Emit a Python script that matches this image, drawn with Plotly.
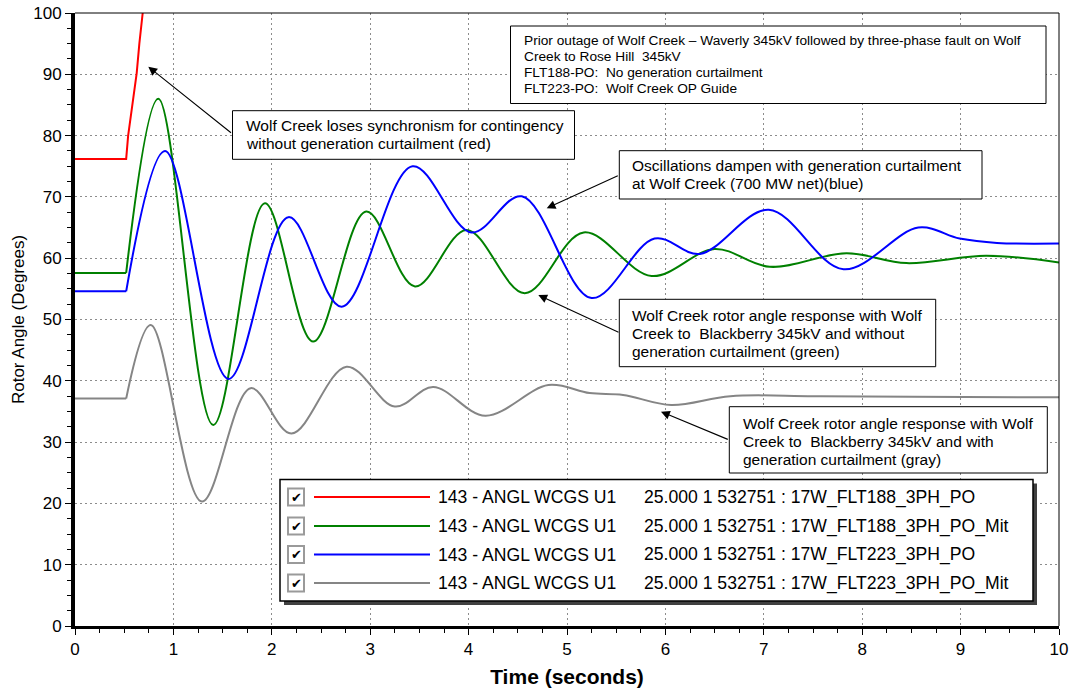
import plotly.graph_objects as go

# ---- rotor angle traces (time in s, angle in degrees) ----
t_red = [0.0, 0.52, 0.54, 0.576, 0.627, 0.654, 0.688]
v_red = [76.2, 76.2, 80.0, 84.2, 90.2, 95.0, 100.0]

t_green = [0.0, 0.52, 0.847, 1.405, 1.93, 2.42, 2.96, 3.455, 3.98, 4.57, 5.17, 5.86,
           6.5, 7.06, 7.84, 8.45, 9.26, 10.0]
v_green = [57.6, 57.6, 86.0, 32.8, 68.95, 46.4, 67.6, 55.4, 64.6, 54.3, 64.2, 57.1,
           61.5, 58.6, 60.8, 59.2, 60.4, 59.3]

t_blue = [0.0, 0.52, 0.915, 1.56, 2.17, 2.71, 3.43, 4.03, 4.54, 5.25, 5.89, 6.35,
          7.05, 7.81, 8.57, 8.99, 9.37, 10.0]
v_blue = [54.6, 54.6, 77.5, 40.3, 66.7, 52.1, 75.0, 64.2, 70.1, 53.5, 63.2, 60.7,
          67.9, 58.2, 65.0, 63.2, 62.5, 62.4]

t_gray = [0.0, 0.52, 0.77, 1.29, 1.785, 2.2, 2.76, 3.25, 3.64, 4.17, 4.81, 5.23, 5.57,
          6.06, 6.66, 7.5, 8.5, 10.0]
v_gray = [37.1, 37.1, 49.1, 20.3, 38.8, 31.4, 42.3, 35.8, 39.0, 34.3, 39.3, 38.0, 37.7,
          36.05, 37.5, 37.5, 37.4, 37.3]

t_fault_clear = 0.52

legend_left = ["143 - ANGL WCGS U1"] * 4
legend_right = [
    "25.000 1 532751 : 17W_FLT188_3PH_PO",
    "25.000 1 532751 : 17W_FLT188_3PH_PO_Mit",
    "25.000 1 532751 : 17W_FLT223_3PH_PO",
    "25.000 1 532751 : 17W_FLT223_3PH_PO_Mit",
]

x_ticks = list(range(0, 11))
y_ticks = list(range(0, 101, 10))

FONT = "Liberation Sans, Arial, sans-serif"
RED, GREEN, BLUE, GRAY = "#FF0000", "#008000", "#0000FF", "#858585"

# plot-area edges in page pixels
W, H = 1071, 689
PL, PR, PT, PB = 75, 1059, 13, 626


def xp(x):
    return (x - PL) / (PR - PL)


def yp(y):
    return (PB - y) / (PB - PT)


def tx(x):
    return (x - PL) / (PR - PL) * 10.0


def vy(y):
    return (PB - y) / (PB - PT) * 100.0


fig = go.Figure()
series = [
    (t_red, v_red, RED, "linear"),
    (t_green, v_green, GREEN, "spline"),
    (t_blue, v_blue, BLUE, "spline"),
    (t_gray, v_gray, GRAY, "spline"),
]
for (t, v, c, shape), name in zip(series, legend_right):
    if shape == "linear":
        fig.add_trace(go.Scatter(x=t, y=v, mode="lines", name=name, showlegend=False,
                                 line=dict(color=c, width=2)))
        continue
    k = t.index(t_fault_clear)
    # steady pre-fault level, then the swing after clearing
    fig.add_trace(go.Scatter(x=t[:k + 1], y=v[:k + 1], mode="lines", name=name,
                             showlegend=False, line=dict(color=c, width=2)))
    fig.add_trace(go.Scatter(x=t[k:], y=v[k:], mode="lines", name=name, showlegend=False,
                             line=dict(color=c, width=2, shape="spline", smoothing=1.0)))

shapes = []
annotations = []

# thin frame on top and right
shapes.append(dict(type="line", xref="paper", yref="paper", x0=0, x1=1, y0=1, y1=1,
                   line=dict(color="black", width=1)))
shapes.append(dict(type="line", xref="paper", yref="paper", x0=1, x1=1, y0=0, y1=1,
                   line=dict(color="black", width=1)))


def text_box(left, top, right, bottom, lines, ys, text_left, size):
    shapes.append(dict(type="rect", xref="paper", yref="paper", layer="above",
                       x0=xp(left), x1=xp(right), y0=yp(bottom), y1=yp(top),
                       line=dict(color="black", width=1), fillcolor="white"))
    for s, y in zip(lines, ys):
        annotations.append(dict(xref="paper", yref="paper", x=xp(text_left), y=yp(y),
                                xanchor="left", yanchor="middle", showarrow=False,
                                text=s, font=dict(family=FONT, size=size, color="black")))


def arrow(head, tail):
    annotations.append(dict(x=tx(head[0]), y=vy(head[1]), xref="x", yref="y",
                            ax=tx(tail[0]), ay=vy(tail[1]), axref="x", ayref="y",
                            text="", showarrow=True, arrowhead=2, arrowsize=1.6,
                            arrowwidth=1.1, arrowcolor="black", standoff=0, startstandoff=0))


# case description
text_box(510.5, 26, 1046, 103.5,
         ["Prior outage of Wolf Creek \u2013 Waverly 345kV followed by three-phase fault on Wolf",
          "Creek to Rose Hill  345kV",
          "FLT188-PO:  No generation curtailment",
          "FLT223-PO:  Wolf Creek OP Guide"],
         [40.7, 56.4, 72.3, 88.3], 522, 13.7)

text_box(232.5, 110.7, 574.5, 159.3,
         ["Wolf Creek loses synchronism for contingency",
          "without generation curtailment (red)"],
         [126, 143.5], 243.5, 15.5)
arrow((148.3, 66.7), (232.5, 134))

text_box(619.3, 150.7, 982, 199,
         ["Oscillations dampen with generation curtailment",
          "at Wolf Creek (700 MW net)(blue)"],
         [166, 183.5], 629.5, 15.5)
arrow((546.7, 208.3), (619.3, 175))

text_box(619.3, 299.3, 935.7, 366.7,
         ["Wolf Creek rotor angle response with Wolf",
          "Creek to  Blackberry 345kV and without",
          "generation curtailment (green)"],
         [315, 333.3, 351.7], 630, 15.5)
arrow((538.3, 295), (620, 333))

text_box(729.3, 406.7, 1047.3, 473,
         ["Wolf Creek rotor angle response with Wolf",
          "Creek to  Blackberry 345kV and with",
          "generation curtailment (gray)"],
         [423.3, 441, 459], 740.5, 15.5)
arrow((661, 411.7), (729.3, 440))

# legend panel with drop shadow
LG_L, LG_T, LG_R, LG_B = 280, 479.5, 1033, 601
shapes.append(dict(type="rect", xref="paper", yref="paper", layer="above",
                   x0=xp(LG_L + 4), x1=xp(LG_R + 4), y0=yp(LG_B + 4), y1=yp(LG_T + 4),
                   line=dict(width=0), fillcolor="#404040"))
shapes.append(dict(type="rect", xref="paper", yref="paper", layer="above",
                   x0=xp(LG_L), x1=xp(LG_R), y0=yp(LG_B), y1=yp(LG_T),
                   line=dict(color="black", width=1.5), fillcolor="white"))
row_y = [497, 526, 554.5, 583]
for (t, v, c, shape), y, s1, s2 in zip(series, row_y, legend_left, legend_right):
    # check box
    shapes.append(dict(type="rect", xref="paper", yref="paper", layer="above",
                       x0=xp(288), x1=xp(304), y0=yp(y + 8.5), y1=yp(y - 8.5),
                       line=dict(color="#9A9A9A", width=2), fillcolor="white"))
    annotations.append(dict(xref="paper", yref="paper", x=xp(296), y=yp(y), showarrow=False,
                            xanchor="center", yanchor="middle", text="<b>\u2714</b>",
                            font=dict(family="DejaVu Sans", size=13, color="black")))
    shapes.append(dict(type="line", xref="paper", yref="paper", layer="above",
                       x0=xp(314), x1=xp(430), y0=yp(y), y1=yp(y),
                       line=dict(color=c, width=2)))
    annotations.append(dict(xref="paper", yref="paper", x=xp(436), y=yp(y), showarrow=False,
                            xanchor="left", yanchor="middle", text=s1,
                            font=dict(family=FONT, size=17.6, color="black")))
    annotations.append(dict(xref="paper", yref="paper", x=xp(641.5), y=yp(y), showarrow=False,
                            xanchor="left", yanchor="middle", text=s2,
                            font=dict(family=FONT, size=17.6, color="black")))

grid = dict(showgrid=True, gridcolor="#8C8C8C", gridwidth=1, griddash="2px,3px",
            zeroline=False, ticks="outside", ticklen=6, tickwidth=1, tickcolor="black",
            showline=True, linecolor="black", automargin=False,
            tickfont=dict(family=FONT, size=17, color="black"))

fig.update_layout(
    width=W, height=H,
    margin=dict(l=PL, r=W - PR, t=PT, b=H - PB),
    paper_bgcolor="white", plot_bgcolor="white",
    shapes=shapes, annotations=annotations,
    xaxis=dict(range=[0, 10], tickvals=x_ticks, linewidth=3,
               minor=dict(dtick=0.25, ticks="outside", ticklen=4, tickcolor="black",
                          showgrid=False),
               title=dict(text="Time (seconds)", standoff=11,
                          font=dict(family=FONT, size=21, color="black", weight="bold")),
               **grid),
    yaxis=dict(range=[0, 100], tickvals=y_ticks, linewidth=4,
               minor=dict(dtick=2.5, ticks="outside", ticklen=4, tickcolor="black",
                          showgrid=False),
               title=dict(text="Rotor Angle (Degrees)", standoff=5,
                          font=dict(family=FONT, size=17, color="black")),
               **grid),
)

fig.write_html("out.html")
